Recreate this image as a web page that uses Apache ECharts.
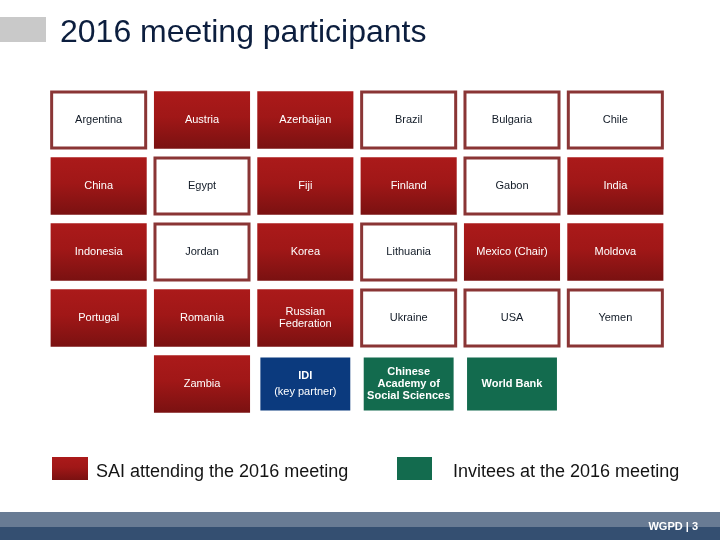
<!DOCTYPE html>
<html>
<head>
<meta charset="utf-8">
<script src="https://cdn.jsdelivr.net/npm/echarts@6/dist/echarts.min.js"></script>
<style>html,body{margin:0;padding:0;background:#fff;}#c{width:720px;height:540px;}</style>
</head>
<body>
<div id="c"></div>
<script>
// ---- data ----
const gridColumns = ['1', '2', '3', '4', '5', '6'];
const gridRows = ['1', '2', '3', '4', '5'];
const participants = [
  'Argentina', 'Austria', 'Azerbaijan', 'Brazil', 'Bulgaria', 'Chile',
  'China', 'Egypt', 'Fiji', 'Finland', 'Gabon', 'India',
  'Indonesia', 'Jordan', 'Korea', 'Lithuania', 'Mexico (Chair)', 'Moldova',
  'Portugal', 'Romania', 'Russian\nFederation', 'Ukraine', 'USA', 'Yemen',
  'Zambia', 'IDI', 'Chinese\nAcademy of\nSocial Sciences', 'World Bank'
];
const participantCol = [
  0, 1, 2, 3, 4, 5,
  0, 1, 2, 3, 4, 5,
  0, 1, 2, 3, 4, 5,
  0, 1, 2, 3, 4, 5,
  1, 2, 3, 4
];
const participantRow = [
  0, 0, 0, 0, 0, 0,
  1, 1, 1, 1, 1, 1,
  2, 2, 2, 2, 2, 2,
  3, 3, 3, 3, 3, 3,
  4, 4, 4, 4
];
// member = SAI not attending, attending = SAI attending, partner = key partner, invitee = invitee
const participantStatus = [
  'member', 'attending', 'attending', 'member', 'member', 'member',
  'attending', 'member', 'attending', 'attending', 'member', 'attending',
  'attending', 'member', 'attending', 'member', 'attending', 'attending',
  'attending', 'attending', 'attending', 'member', 'member', 'member',
  'attending', 'partner', 'invitee', 'invitee'
];
const legendLabels = ['SAI attending the 2016 meeting', 'Invitees at the 2016 meeting'];
const titleText = '2016 meeting participants';
const footerText = 'WGPD | 3';

// ---- chart ----
const redGrad = () => new echarts.graphic.LinearGradient(0, 0, 0, 1, [
  { offset: 0, color: '#ab1a1a' },
  { offset: 0.45, color: '#a01717' },
  { offset: 1, color: '#7a1111' }
]);

const seriesData = participants.map((n, i) => [participantCol[i], participantRow[i], n, participantStatus[i]]);

const chart = echarts.init(document.getElementById('c'), null, { renderer: 'canvas' });

chart.setOption({
  backgroundColor: '#ffffff',
  animation: false,
  grid: { left: 47, right: 53, top: 87, bottom: 123 },
  xAxis: { type: 'category', data: gridColumns, show: false },
  yAxis: { type: 'category', data: gridRows, inverse: true, show: false },
  series: [{
    type: 'custom',
    data: seriesData,
    encode: { x: 0, y: 1 },
    renderItem: function (params, api) {
      const c = api.coord([api.value(0), api.value(1)]);
      const band = api.size([1, 1]);
      const name = participants[params.dataIndex];
      const st = participantStatus[params.dataIndex];
      const cx = c[0], cy = c[1];
      let w, h, shapeStyle, textStyle;
      const baseFont = '11px "Liberation Sans", Arial, sans-serif';
      if (st === 'member') {
        w = band[0] * 0.91; h = band[1] * 0.85;
        shapeStyle = { fill: '#ffffff', stroke: '#8a3535', lineWidth: 3 };
        textStyle = { text: name, fill: '#111a26', font: baseFont, align: 'center', verticalAlign: 'middle', lineHeight: 12 };
      } else if (st === 'attending') {
        w = band[0] * 0.93; h = band[1] * 0.87;
        shapeStyle = { fill: redGrad() };
        textStyle = { text: name, fill: '#ffffff', font: baseFont, align: 'center', verticalAlign: 'middle', lineHeight: 12 };
      } else if (st === 'partner') {
        w = band[0] * 0.87; h = band[1] * 0.80;
        shapeStyle = { fill: '#0b3a7e' };
        textStyle = {
          text: '{b|' + name + '}\n{n|(key partner)}',
          fill: '#ffffff', align: 'center', verticalAlign: 'middle',
          rich: {
            b: { font: 'bold 11px "Liberation Sans", Arial, sans-serif', fill: '#ffffff', lineHeight: 16, align: 'center' },
            n: { font: '11px "Liberation Sans", Arial, sans-serif', fill: '#ffffff', lineHeight: 16, align: 'center' }
          }
        };
      } else {
        w = band[0] * 0.87; h = band[1] * 0.80;
        shapeStyle = { fill: '#136b4e' };
        textStyle = { text: name, fill: '#ffffff', font: 'bold 11px "Liberation Sans", Arial, sans-serif', align: 'center', verticalAlign: 'middle', lineHeight: 12 };
      }
      return {
        type: 'group',
        children: [
          { type: 'rect', shape: { x: cx - w / 2, y: cy - h / 2, width: w, height: h }, style: shapeStyle },
          { type: 'text', x: cx, y: cy, style: textStyle }
        ]
      };
    }
  }],
  graphic: [
    { type: 'rect', shape: { x: 0, y: 17, width: 46, height: 25 }, style: { fill: '#c9c9c9' } },
    { type: 'text', x: 60, y: 33, style: { text: titleText, font: '32px "Liberation Sans", Arial, sans-serif', fill: '#0c1e3e', verticalAlign: 'middle' } },
    { type: 'rect', shape: { x: 52, y: 457, width: 36, height: 23 }, style: { fill: redGrad() } },
    { type: 'text', x: 96, y: 472, style: { text: legendLabels[0], font: '18px "Liberation Sans", Arial, sans-serif', fill: '#141414', verticalAlign: 'middle' } },
    { type: 'rect', shape: { x: 397, y: 457, width: 35, height: 23 }, style: { fill: '#136b4e' } },
    { type: 'text', x: 453, y: 472, style: { text: legendLabels[1], font: '18px "Liberation Sans", Arial, sans-serif', fill: '#141414', verticalAlign: 'middle' } },
    { type: 'rect', shape: { x: 0, y: 512, width: 720, height: 15 }, style: { fill: '#687b94' } },
    { type: 'rect', shape: { x: 0, y: 527, width: 720, height: 13 }, style: { fill: '#344f71' } },
    { type: 'text', x: 698, y: 527, style: { text: footerText, font: 'bold 11px "Liberation Sans", Arial, sans-serif', fill: '#ffffff', align: 'right', verticalAlign: 'middle' } }
  ]
});
</script>
</body>
</html>
